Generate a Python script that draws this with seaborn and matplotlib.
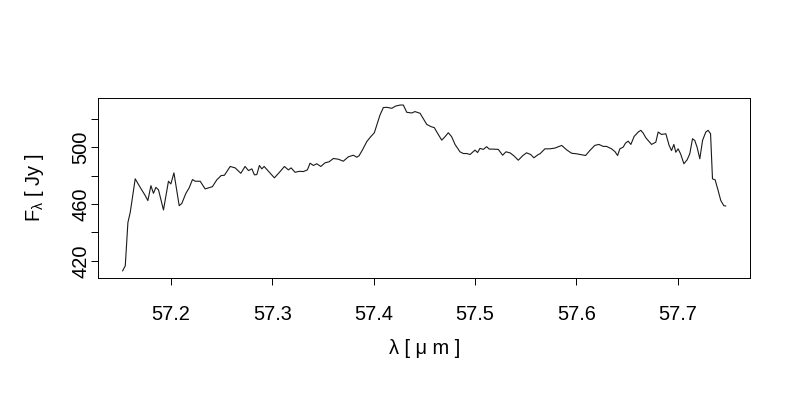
import numpy as np
import pandas as pd
import seaborn as sb
import matplotlib.pyplot as plt
from matplotlib.ticker import FixedLocator, FixedFormatter

# spectrum
wavelength = [
    57.1522, 57.1549, 57.1575, 57.1598, 57.1647, 57.1696, 57.1746, 57.1772, 57.1802, 57.1827,
    57.1851, 57.1877, 57.1926, 57.1975, 57.1999, 57.2029, 57.2081, 57.2107, 57.2147, 57.2179,
    57.2212, 57.2239, 57.2288, 57.2337, 57.2370, 57.2409, 57.2452, 57.2495, 57.2527, 57.2584,
    57.2633, 57.2689, 57.2731, 57.2764, 57.2798, 57.2823, 57.2847, 57.2872, 57.2896, 57.2919,
    57.2971, 57.3020, 57.3070, 57.3119, 57.3158, 57.3185, 57.3224, 57.3267, 57.3306, 57.3346,
    57.3372, 57.3405, 57.3438, 57.3478, 57.3520, 57.3560, 57.3602, 57.3651, 57.3700, 57.3750,
    57.3799, 57.3833, 57.3855, 57.3888, 57.3931, 57.3964, 57.4006, 57.4030, 57.4062, 57.4095,
    57.4128, 57.4178, 57.4217, 57.4260, 57.4292, 57.4326, 57.4375, 57.4407, 57.4457, 57.4483,
    57.4523, 57.4565, 57.4598, 57.4621, 57.4671, 57.4703, 57.4736, 57.4769, 57.4802, 57.4851,
    57.4884, 57.4917, 57.4950, 57.4999, 57.5025, 57.5048, 57.5081, 57.5114, 57.5140, 57.5179,
    57.5229, 57.5272, 57.5304, 57.5344, 57.5383, 57.5426, 57.5469, 57.5508, 57.5548, 57.5580,
    57.5623, 57.5640, 57.5689, 57.5738, 57.5787, 57.5854, 57.5903, 57.5952, 57.6001, 57.6051,
    57.6090, 57.6132, 57.6181, 57.6221, 57.6264, 57.6297, 57.6346, 57.6379, 57.6406, 57.6428,
    57.6461, 57.6484, 57.6510, 57.6537, 57.6569, 57.6609, 57.6635, 57.6658, 57.6684, 57.6741,
    57.6783, 57.6806, 57.6839, 57.6882, 57.6914, 57.6938, 57.6961, 57.6980, 57.7003, 57.7027,
    57.7060, 57.7092, 57.7118, 57.7145, 57.7167, 57.7190, 57.7217, 57.7244, 57.7276, 57.7299,
    57.7323, 57.7342, 57.7368, 57.7398, 57.7424, 57.7454, 57.7474,
]
flux = [
    412.9, 416.5, 447.0, 454.1, 477.7, 471.7, 465.9, 462.4, 472.9, 467.5,
    471.7, 469.9, 455.8, 476.0, 474.1, 481.9, 458.8, 460.4, 467.5, 471.3,
    477.2, 476.0, 476.0, 470.6, 471.3, 472.2, 477.0, 480.0, 480.2, 486.4,
    485.4, 481.6, 486.4, 483.5, 484.7, 480.5, 480.7, 487.1, 484.7, 486.4,
    482.3, 478.4, 482.3, 486.4, 484.0, 485.4, 482.3, 483.0, 482.8, 484.0,
    488.7, 487.1, 488.3, 486.4, 489.0, 489.7, 492.0, 491.5, 490.1, 493.2,
    494.3, 492.9, 493.9, 497.9, 503.8, 506.8, 510.1, 515.5, 522.6, 527.8,
    528.0, 527.3, 528.9, 529.6, 529.6, 524.5, 524.0, 525.0, 523.8, 520.7,
    516.0, 514.4, 513.7, 510.8, 504.9, 507.3, 510.1, 507.3, 501.9, 496.7,
    495.5, 495.5, 494.8, 497.9, 496.2, 499.1, 498.4, 500.3, 498.6, 498.6,
    498.4, 494.3, 496.7, 496.0, 493.9, 490.8, 493.9, 496.0, 494.8, 492.5,
    494.8, 495.3, 498.8, 498.8, 499.3, 501.2, 498.1, 495.7, 495.3, 494.6,
    494.1, 497.6, 501.2, 501.9, 500.5, 500.5, 498.8, 496.9, 494.1, 498.8,
    500.0, 502.8, 504.2, 501.9, 507.5, 510.6, 511.8, 509.9, 506.6, 501.9,
    503.5, 510.6, 508.9, 509.4, 501.2, 497.6, 501.9, 496.4, 498.8, 495.3,
    488.3, 491.1, 495.3, 505.9, 504.7, 500.0, 491.8, 504.7, 510.6, 511.8,
    509.4, 477.7, 477.0, 469.4, 462.4, 458.8, 458.6,
]

x_ticks = [57.2, 57.3, 57.4, 57.5, 57.6, 57.7]
x_tick_labels = ["57.2", "57.3", "57.4", "57.5", "57.6", "57.7"]
y_ticks = [420, 440, 460, 480, 500, 520]
y_tick_labels = ["420", "", "460", "", "500", ""]

if __name__ == '__main__':
    sb.set_theme(style="white")
    plt.rcParams['font.family'] = ['Liberation Sans', 'DejaVu Sans']
    plt.rcParams['mathtext.fontset'] = 'custom'
    plt.rcParams['mathtext.rm'] = 'Liberation Sans'
    plt.rcParams['mathtext.it'] = 'Liberation Sans'

    spec = pd.DataFrame({'wl': wavelength, 'flux': flux})

    fig = plt.figure(figsize=(8, 4), dpi=100)
    ax = fig.add_axes([0.123, 0.306, 0.8145, 0.448])
    sb.lineplot(data=spec, x='wl', y='flux', color='#1a1a1a', linewidth=0.8,
                estimator=None, sort=False, ax=ax)
    # R style padding of 4% on both axes
    ax.margins(x=0.04, y=0.04)

    ax.xaxis.set_major_locator(FixedLocator(x_ticks))
    ax.xaxis.set_major_formatter(FixedFormatter(x_tick_labels))
    ax.yaxis.set_major_locator(FixedLocator(y_ticks))
    ax.yaxis.set_major_formatter(FixedFormatter(y_tick_labels))
    ax.tick_params(axis='both', direction='out', length=5, width=0.7,
                   color='black', labelsize=14.4, labelcolor='black')
    ax.tick_params(axis='x', bottom=True, pad=14.5)
    ax.tick_params(axis='y', left=True, pad=1)
    for lbl in ax.get_yticklabels():
        lbl.set_rotation(90)
        lbl.set_verticalalignment('center')

    for s in ax.spines.values():
        s.set_visible(True)
        s.set_color('black')
        s.set_linewidth(0.7)

    ax.set_xlabel('λ [ μ m ]', fontsize=14.4, color='black')
    ax.set_ylabel(r'F$_{\lambda}$ [ Jy ]', fontsize=14.4, color='black')
    ax.xaxis.set_label_coords(0.5, -0.345)
    ax.yaxis.set_label_coords(-0.080, 0.5)

    plt.savefig('out.png', dpi=100)
